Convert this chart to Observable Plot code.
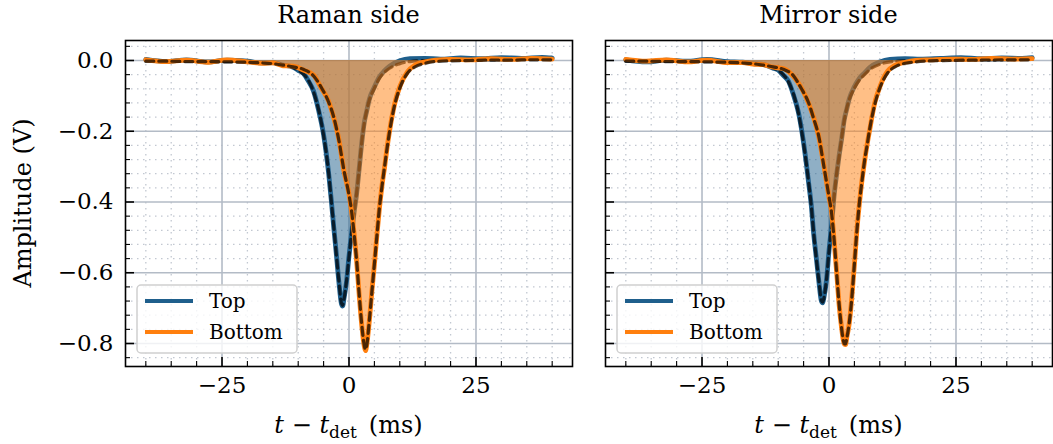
<!DOCTYPE html>
<html><head><meta charset="utf-8">
<script src="https://cdn.jsdelivr.net/npm/d3@7"></script>
<script src="https://cdn.jsdelivr.net/npm/@observablehq/plot@0.6"></script>
<style>
body{margin:0;background:#fff}
#wrap{position:relative;width:1053px;height:444px;overflow:hidden}
#wrap svg{position:absolute;top:0}
</style>
</head><body><div id="wrap"></div>
<script>
// ---------- data ----------
const panelTitles = ["Raman side", "Mirror side"];
const seriesNames = ["Top", "Bottom"];
const seriesColors = ["#1f5f8c", "#ff7f0e"];

const xMajor = [-25, 0, 25];
const xMinor = [-40, -35, -30, -20, -15, -10, -5, 5, 10, 15, 20, 30, 35, 40];
const yMajor = [0, -0.2, -0.4, -0.6, -0.8];
const yMinor = [0.04, -0.04, -0.08, -0.12, -0.16, -0.24, -0.28, -0.32, -0.36, -0.44, -0.48, -0.52, -0.56, -0.64, -0.68, -0.72, -0.76, -0.84];

// time axis (ms) for Top traces
const tTop = [-40,-36,-32,-28,-24,-20,-17,-15,-13,-11,-10,-9,-8,-7,-6,-5,-4,-3.5,-3,-2.5,-2,-1.5,-1.25,-1,-0.5,0,0.5,1,1.5,2,2.5,3,3.5,4,5,6,7,8,10,12,15,18,22,26,30,34,38,40];
// time axis (ms) for Bottom traces
const tBot = [-40,-36,-32,-28,-24,-20,-17,-15,-13,-11,-9,-7,-5.5,-4,-3,-2,-1,0,0.5,1,1.5,2,2.5,3,3.25,3.5,4,4.5,5,5.5,6,6.5,7,7.5,8,9,10,11.5,13,15,17,20,24,28,32,36,40];

// Raman side
const ramanTopMeas = [0.003,-0.003,0.002,-0.004,0.001,-0.002,-0.007,-0.006,-0.013,-0.019,-0.028,-0.036,-0.058,-0.086,-0.14,-0.21,-0.32,-0.393,-0.472,-0.546,-0.625,-0.687,-0.694,-0.674,-0.627,-0.553,-0.49,-0.43,-0.377,-0.306,-0.234,-0.176,-0.142,-0.11,-0.075,-0.046,-0.029,-0.016,-0.001,0.005,0.006,0.004,0.007,0.005,0.008,0.006,0.009,0.007];
const ramanTopFit = [-0.002,-0.002,-0.002,-0.003,-0.003,-0.004,-0.006,-0.008,-0.012,-0.02,-0.027,-0.038,-0.056,-0.088,-0.138,-0.212,-0.318,-0.395,-0.47,-0.548,-0.622,-0.685,-0.692,-0.676,-0.625,-0.555,-0.488,-0.432,-0.375,-0.308,-0.232,-0.178,-0.14,-0.112,-0.078,-0.05,-0.033,-0.022,-0.009,-0.003,0.0,0.001,0.002,0.002,0.002,0.003,0.003,0.003];
const ramanBotMeas = [0.002,-0.003,0.001,-0.005,0.002,-0.004,-0.008,-0.007,-0.015,-0.016,-0.027,-0.041,-0.077,-0.116,-0.162,-0.223,-0.312,-0.378,-0.427,-0.488,-0.567,-0.662,-0.747,-0.807,-0.82,-0.803,-0.737,-0.653,-0.577,-0.493,-0.417,-0.353,-0.302,-0.246,-0.198,-0.122,-0.074,-0.032,-0.013,-0.004,0.001,0.003,0.002,0.005,0.003,0.006,0.004];
const ramanBotFit = [-0.002,-0.002,-0.003,-0.003,-0.004,-0.005,-0.007,-0.009,-0.013,-0.018,-0.025,-0.043,-0.075,-0.118,-0.16,-0.225,-0.31,-0.38,-0.425,-0.49,-0.565,-0.66,-0.745,-0.805,-0.817,-0.805,-0.735,-0.655,-0.575,-0.495,-0.415,-0.355,-0.3,-0.248,-0.2,-0.125,-0.078,-0.036,-0.018,-0.008,-0.003,-0.001,0.0,0.001,0.001,0.002,0.002];

// Mirror side
const mirrorTopMeas = [0.002,-0.004,0.001,-0.002,0.003,-0.003,-0.005,-0.009,-0.011,-0.022,-0.027,-0.042,-0.058,-0.097,-0.148,-0.233,-0.347,-0.408,-0.492,-0.558,-0.624,-0.68,-0.685,-0.67,-0.622,-0.538,-0.467,-0.383,-0.322,-0.268,-0.22,-0.168,-0.137,-0.108,-0.074,-0.05,-0.035,-0.02,-0.004,0.003,0.005,0.004,0.006,0.008,0.005,0.007,0.006,0.008];
const mirrorTopFit = [-0.002,-0.002,-0.002,-0.003,-0.003,-0.004,-0.006,-0.008,-0.012,-0.021,-0.028,-0.04,-0.06,-0.095,-0.15,-0.235,-0.345,-0.41,-0.49,-0.56,-0.622,-0.678,-0.683,-0.672,-0.62,-0.54,-0.465,-0.385,-0.32,-0.27,-0.218,-0.17,-0.135,-0.11,-0.078,-0.055,-0.04,-0.026,-0.011,-0.004,-0.001,0.0,0.001,0.002,0.002,0.002,0.003,0.003];
const mirrorBotMeas = [0.003,-0.002,0.002,-0.004,0.001,-0.006,-0.006,-0.01,-0.012,-0.019,-0.023,-0.045,-0.076,-0.122,-0.163,-0.217,-0.298,-0.387,-0.428,-0.507,-0.598,-0.692,-0.758,-0.802,-0.803,-0.783,-0.742,-0.668,-0.577,-0.478,-0.402,-0.338,-0.285,-0.238,-0.197,-0.12,-0.075,-0.031,-0.014,-0.005,0.0,0.002,0.004,0.003,0.006,0.004,0.005];
const mirrorBotFit = [-0.002,-0.002,-0.003,-0.003,-0.004,-0.005,-0.007,-0.009,-0.013,-0.018,-0.025,-0.043,-0.078,-0.12,-0.165,-0.215,-0.3,-0.385,-0.43,-0.505,-0.6,-0.69,-0.76,-0.8,-0.801,-0.785,-0.74,-0.67,-0.575,-0.48,-0.4,-0.34,-0.283,-0.24,-0.195,-0.125,-0.078,-0.036,-0.018,-0.008,-0.004,-0.001,0.0,0.001,0.001,0.002,0.002];

// ---------- build ----------
const zip = (ts, vs) => ts.map((t, i) => ({t, v: vs[i]}));
const panels = [
  {title: panelTitles[0], top: zip(tTop, ramanTopMeas), topFit: zip(tTop, ramanTopFit), bot: zip(tBot, ramanBotMeas), botFit: zip(tBot, ramanBotFit)},
  {title: panelTitles[1], top: zip(tTop, mirrorTopMeas), topFit: zip(tTop, mirrorTopFit), bot: zip(tBot, mirrorBotMeas), botFit: zip(tBot, mirrorBotFit)}
];

const FONT = "DejaVu Serif";
const H = 444, MT = 40, MB = 78;
const innerH = H - MT - MB;
const layouts = [
  {left: 0, width: 590, ml: 125, mr: 18, labels: true},
  {left: 590, width: 463, ml: 15, mr: 1, labels: false}
];
const wrap = document.getElementById("wrap");

panels.forEach((p, k) => {
  const L = layouts[k];
  const innerW = L.width - L.ml - L.mr;
  const curve = "monotone-x";
  const dotted = {stroke: "#c2c8d1", strokeOpacity: 1, strokeWidth: 1.3, strokeDasharray: "1.5,4.5"};
  const solid = {stroke: "#b3bbc6", strokeOpacity: 1, strokeWidth: 1.6};
  const fitStyle = {x: "t", y: "v", stroke: "black", strokeOpacity: 0.7, strokeWidth: 3.2, strokeDasharray: "8,5", curve};
  const chart = Plot.plot({
    width: L.width, height: H,
    marginLeft: L.ml, marginRight: L.mr, marginTop: MT, marginBottom: MB,
    x: {domain: [-44, 44], axis: null},
    y: {domain: [-0.865, 0.0565], axis: null},
    style: {fontFamily: FONT, fontSize: "23px", color: "black", background: "white", overflow: "visible"},
    marks: [
      Plot.gridY(yMinor, dotted),
      Plot.gridX(xMinor, dotted),
      Plot.gridY(yMajor, solid),
      Plot.gridX(xMajor, solid),
      Plot.areaY(p.top, {x: "t", y1: 0, y2: "v", fill: seriesColors[0], fillOpacity: 0.5, curve}),
      Plot.line(p.top, {x: "t", y: "v", stroke: seriesColors[0], strokeWidth: 4.8, curve}),
      Plot.line(p.topFit, fitStyle),
      Plot.areaY(p.bot, {x: "t", y1: 0, y2: "v", fill: seriesColors[1], fillOpacity: 0.5, curve}),
      Plot.line(p.bot, {x: "t", y: "v", stroke: seriesColors[1], strokeWidth: 4.8, curve}),
      Plot.line(p.botFit, fitStyle),
      // inward ticks
      Plot.tickX(xMajor, {x: d => d, insetTop: innerH - 9, stroke: "black", strokeWidth: 1.6}),
      Plot.tickX(xMinor, {x: d => d, insetTop: innerH - 5, stroke: "black", strokeWidth: 1.1}),
      Plot.tickY(yMajor, {y: d => d, insetRight: innerW - 9, stroke: "black", strokeWidth: 1.6}),
      Plot.tickY(yMinor, {y: d => d, insetRight: innerW - 5, stroke: "black", strokeWidth: 1.1}),
      Plot.axisX(xMajor, {tickSize: 0, tickPadding: 10, label: null, tickFormat: d3.format("d"), fontSize: 23}),
      L.labels
        ? Plot.axisY(yMajor, {tickSize: 0, tickPadding: 12, label: null, tickFormat: d3.format(".1f"), fontSize: 23})
        : null,
      Plot.frame({stroke: "black", strokeWidth: 1.6})
    ]
  });
  chart.style.left = L.left + "px";
  wrap.appendChild(chart);

  const svg = d3.select(chart);
  const cx = L.ml + innerW / 2;
  // title
  svg.append("text").attr("x", cx).attr("y", 23).attr("text-anchor", "middle")
    .attr("font-family", FONT).attr("font-size", 24).attr("fill", "black").text(p.title);
  // x label
  const xl = svg.append("text").attr("x", cx).attr("y", 433).attr("text-anchor", "middle")
    .attr("font-family", FONT).attr("font-size", 24).attr("fill", "black");
  xl.append("tspan").attr("font-style", "italic").text("t");
  xl.append("tspan").text(" \u2212 ");
  xl.append("tspan").attr("font-style", "italic").text("t");
  xl.append("tspan").attr("font-size", 17).attr("dy", 5).text("det");
  xl.append("tspan").attr("dy", -5).text("\u2002(ms)");
  // y label
  if (L.labels) {
    svg.append("text").attr("transform", `translate(31,${MT + innerH / 2}) rotate(-90)`)
      .attr("text-anchor", "middle").attr("font-family", FONT).attr("font-size", 24)
      .attr("fill", "black").text("Amplitude (V)");
  }
  // legend
  const lx = L.ml + 12, ly = 285;
  const g = svg.append("g");
  g.append("rect").attr("x", lx).attr("y", ly).attr("width", 160).attr("height", 68)
    .attr("rx", 4).attr("fill", "white").attr("fill-opacity", 0.8)
    .attr("stroke", "#d0d0d0").attr("stroke-width", 1.5);
  seriesNames.forEach((name, i) => {
    const yy = ly + 16 + i * 31;
    g.append("line").attr("x1", lx + 8).attr("x2", lx + 56).attr("y1", yy).attr("y2", yy)
      .attr("stroke", seriesColors[i]).attr("stroke-width", 4);
    g.append("text").attr("x", lx + 72).attr("y", yy + 7).attr("text-anchor", "start")
      .attr("font-family", FONT).attr("font-size", 20).attr("fill", "black").text(name);
  });
});
</script>
</body></html>
